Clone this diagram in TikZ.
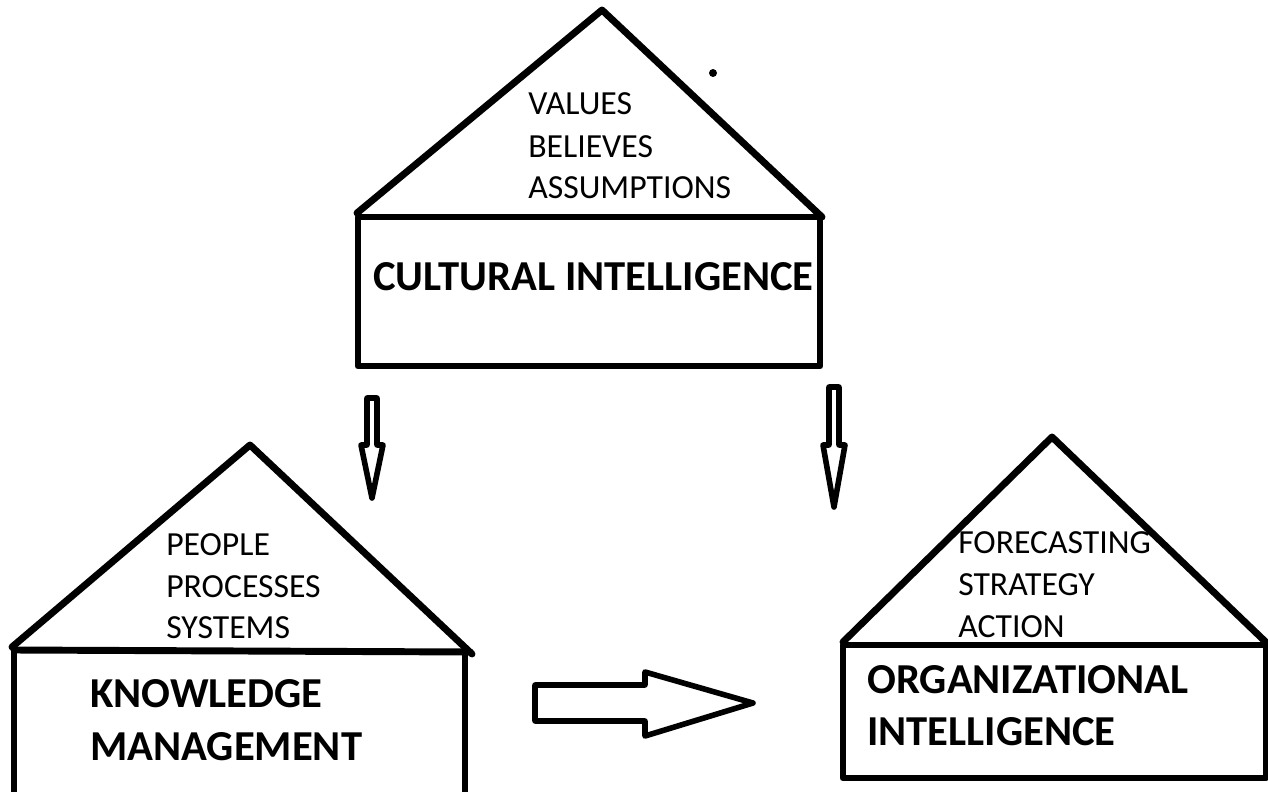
\documentclass[tikz,border=0pt]{standalone}
\usepackage{fontspec}
\setmainfont{Carlito}
\begin{document}
\begin{tikzpicture}[x=0.75pt,y=-0.75pt,
  house/.style={line width=5.2pt,line join=round,line cap=round},
  blockarrow/.style={line width=4.2pt,line join=round,line cap=round},
  small/.style={anchor=base west,inner sep=0pt,font=\fontsize{25.3}{30.75}\selectfont},
  big/.style={anchor=base west,inner sep=0pt,font=\fontsize{32}{39.5}\selectfont\bfseries}]
\useasboundingbox[fill=white] (0,0) rectangle (1268,792);
\clip (0,0) rectangle (1268,792);
% top house
\coordinate (ciApex) at (602,10);
\coordinate (ciL) at (357,213);
\coordinate (ciR) at (822,217);
\draw[house] (ciL) -- (ciApex) -- (ciR);
\draw[house] (358,217) rectangle (820,366);
\fill (713,73) circle (4);
\node[small] (civ) at (528,115) {VALUES};
\node[small] (cib) at (528,157) {BELIEVES};
\node[small] (cia) at (528,198) {ASSUMPTIONS};
\node[big] (ci) at (373,290) {CULTURAL INTELLIGENCE};
% bottom-left house
\coordinate (kmApex) at (250,445);
\coordinate (kmL) at (12,647);
\coordinate (kmR) at (472,654);
\draw[house] (kmL) -- (kmApex) -- (kmR);
\draw[house] (14,650) -- (470,652);
\draw[house] (14,650) -- (14,800) (465,652) -- (465,800);
\node[small] (kmp) at (166,555) {PEOPLE};
\node[small] (kmq) at (166,597) {PROCESSES};
\node[small] (kms) at (166,638) {SYSTEMS};
\node[big] (km1) at (90,707) {KNOWLEDGE};
\node[big] (km2) at (90,760) {MANAGEMENT};
% right house
\coordinate (oiApex) at (1052,437);
\coordinate (oiL) at (843,642);
\coordinate (oiR) at (1272,648);
\draw[house] (oiL) -- (oiApex) -- (oiR);
\draw[house] (843,645) rectangle (1266,778);
\node[small] (oif) at (958,553) {FORECASTING};
\node[small] (ois) at (958,595) {STRATEGY};
\node[small] (oia) at (958,637) {ACTION};
\node[big] (oi1) at (867,693) {ORGANIZATIONAL};
\node[big] (oi2) at (867,745) {INTELLIGENCE};
% down arrow 1
\coordinate (a1) at (372,398);
\draw[blockarrow] (a1) ++(-5,0) -- ++(10,0) -- ++(0,47) -- ++(6,0) -- (372,498) -- (361,445) -- (367,445) -- cycle;
% down arrow 2
\coordinate (a2) at (834,387);
\draw[blockarrow] (a2) ++(-5,0) -- ++(10,0) -- ++(0,58) -- ++(6,0) -- (834,507) -- (823,445) -- (829,445) -- cycle;
% right arrow
\coordinate (a3) at (535,685);
\draw[blockarrow] (a3) -- (645,685) -- (645,672) -- (753,703) -- (645,736) -- (645,721) -- (535,721) -- cycle;
\end{tikzpicture}
\end{document}
